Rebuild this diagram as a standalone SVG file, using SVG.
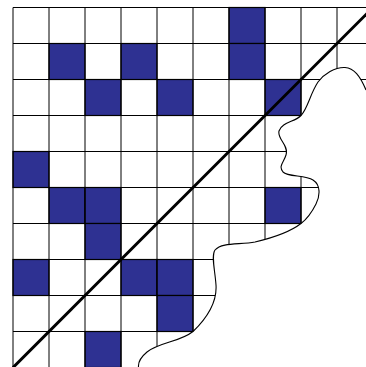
<svg xmlns="http://www.w3.org/2000/svg" width="366" height="367" viewBox="0 0 366 367">
  <style>
    .grid { stroke: #000; stroke-width: 1; fill: none; }
    .cell { fill: #2E3192; stroke: #000; stroke-width: 1.2; }
    .blob { fill: none; stroke: #000; stroke-width: 1.1; }
    .diag { stroke: #000; stroke-width: 3; fill: none; }
  </style>
  <defs>
    <clipPath id="outside">
      <path clip-rule="evenodd" d="M-5,-5 H375 V375 H-5 Z M366,90 C360,76 354,68 345,67.5 C335,67 324,74 318,82 C310,94 308,108 301,115.5 C295,122 282,122 279,131 C277,139 289,145 286,155 C284,162 278,166 283,172 C288,177 305,175 313,180 C321,185 320,196 316,204 C312,212 307,219 301,223.5 C290,232 272,238 255,242 C240,245 222,242 215,250 C211,256 215,270 216,285 C217,300 210,315 193,331.5 C180,342 160,342 147,352 C141,357 138,362 138.5,367 L138.5,374 L374,374 L374,90 Z"/>
    </clipPath>
  </defs>
  <rect width="366" height="367" fill="#fff"/>
  <g id="board" clip-path="url(#outside)">
    <g id="cells">
      <rect class="cell" x="229" y="7.5" width="36" height="36"/>
      <rect class="cell" x="49" y="43.5" width="36" height="36"/>
      <rect class="cell" x="121" y="43.5" width="36" height="36"/>
      <rect class="cell" x="229" y="43.5" width="36" height="36"/>
      <rect class="cell" x="85" y="79.5" width="36" height="36"/>
      <rect class="cell" x="157" y="79.5" width="36" height="36"/>
      <rect class="cell" x="265" y="79.5" width="36" height="36"/>
      <rect class="cell" x="13" y="151.5" width="36" height="36"/>
      <rect class="cell" x="49" y="187.5" width="36" height="36"/>
      <rect class="cell" x="85" y="187.5" width="36" height="36"/>
      <rect class="cell" x="265" y="187.5" width="36" height="36"/>
      <rect class="cell" x="85" y="223.5" width="36" height="36"/>
      <rect class="cell" x="13" y="259.5" width="36" height="36"/>
      <rect class="cell" x="121" y="259.5" width="36" height="36"/>
      <rect class="cell" x="157" y="259.5" width="36" height="36"/>
      <rect class="cell" x="157" y="295.5" width="36" height="36"/>
      <rect class="cell" x="85" y="331.5" width="36" height="36"/>
    </g>
    <path id="gridlines" class="grid" d="M13,7.5 V370 M49,7.5 V370 M85,7.5 V370 M121,7.5 V370 M157,7.5 V370 M193,7.5 V370 M229,7.5 V370 M265,7.5 V370 M301,7.5 V370 M337,7.5 V370 M13,7.5 H370 M13,43.5 H370 M13,79.5 H370 M13,115.5 H370 M13,151.5 H370 M13,187.5 H370 M13,223.5 H370 M13,259.5 H370 M13,295.5 H370 M13,331.5 H370"/>
  </g>
  <g id="connectors">
    <path id="outline" class="blob" d="M366,90 C360,76 354,68 345,67.5 C335,67 324,74 318,82 C310,94 308,108 301,115.5 C295,122 282,122 279,131 C277,139 289,145 286,155 C284,162 278,166 283,172 C288,177 305,175 313,180 C321,185 320,196 316,204 C312,212 307,219 301,223.5 C290,232 272,238 255,242 C240,245 222,242 215,250 C211,256 215,270 216,285 C217,300 210,315 193,331.5 C180,342 160,342 147,352 C141,357 138,362 138.5,367"/>
    <line id="diagonal" class="diag" x1="13" y1="367.5" x2="373" y2="7.5"/>
  </g>
</svg>
